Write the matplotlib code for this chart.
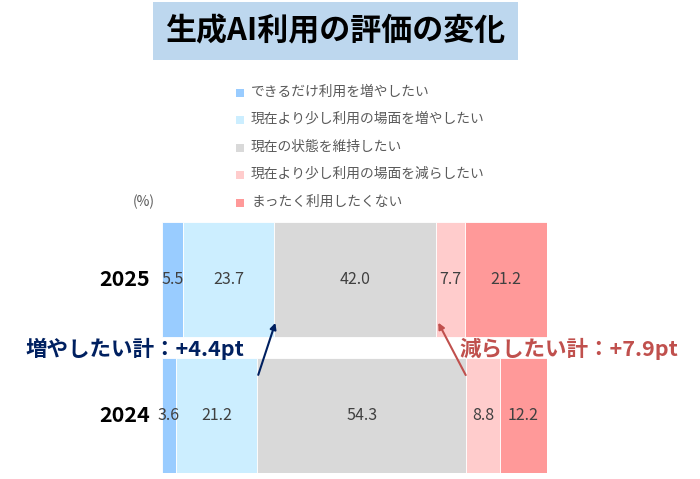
import matplotlib
matplotlib.use("Agg")
import matplotlib.pyplot as plt
from matplotlib.patches import Rectangle

plt.rcParams['font.family'] = ['Noto Sans CJK JP', 'DejaVu Sans']

years = ["2025", "2024"]
categories = ["できるだけ利用を増やしたい", "現在より少し利用の場面を増やしたい",
              "現在の状態を維持したい", "現在より少し利用の場面を減らしたい",
              "まったく利用したくない"]
values = {
    "2025": [5.5, 23.7, 42.0, 7.7, 21.2],
    "2024": [3.6, 21.2, 54.3, 8.8, 12.2],
}
colors = ["#99CCFF", "#CCEEFF", "#D9D9D9", "#FFCCCC", "#FF9999"]
title = "生成AI利用の評価の変化"
inc_note = "増やしたい計：+4.4pt"
dec_note = "減らしたい計：+7.9pt"

W, H = 700, 479
fig = plt.figure(figsize=(W / 100, H / 100), dpi=100)

def fx(px):
    return px / W

def fy(py):
    return 1 - py / H

# bar axes
ax = fig.add_axes([fx(162), fy(473), fx(547) - fx(162), fy(222) - fy(473)])
ax.set_xlim(0, 100.1)
ax.set_ylim(1.42, -0.42)
ax.axis('off')
for i, yr in enumerate(years):
    left = 0
    for v, c in zip(values[yr], colors):
        ax.barh(i, v, left=left, height=0.84, color=c, edgecolor='white', linewidth=0.6)
        ax.text(left + v / 2, i, f"{v:.1f}", ha='center', va='center',
                fontsize=11.5, color='#404040')
        left += v
    ax.text(-3.2, i, yr, ha='right', va='center', fontsize=15.5, fontweight='bold', color='black')

# title box
fig.patches.append(Rectangle((fx(153), fy(60)), fx(518) - fx(153), fy(2) - fy(60),
                             transform=fig.transFigure, facecolor='#BDD7EE', edgecolor='none'))
fig.text(fx(335), fy(31), title, ha='center', va='center', fontsize=22.3, fontweight='bold', color='black')

# legend
leg_y = [92, 119, 147, 174, 202]
for yy, lab, c in zip(leg_y, categories, colors):
    fig.patches.append(Rectangle((fx(236), fy(yy + 5)), fx(8), fy(0) - fy(8),
                                 transform=fig.transFigure, facecolor=c, edgecolor='none'))
    fig.text(fx(251), fy(yy), lab, ha='left', va='center', fontsize=9.9, color='#595959')

fig.text(fx(144), fy(202), "(%)", ha='center', va='center', fontsize=10, color='#595959')

# annotations
fig.text(fx(26), fy(349), inc_note, ha='left', va='center', fontsize=15.5,
         fontweight='bold', color='#002060')
fig.text(fx(678), fy(349), dec_note, ha='right', va='center', fontsize=15.5,
         fontweight='bold', color='#C0504D')

inc_2024 = sum(values["2024"][:2])
inc_2025 = sum(values["2025"][:2])
dec_2024 = sum(values["2024"][:3])
dec_2025 = sum(values["2025"][:3])
ax.annotate("", xy=(inc_2025 + 0.5, 0.3), xytext=(inc_2024, 0.72),
            arrowprops=dict(arrowstyle='-|>', color='#002060', lw=1.5, mutation_scale=9))
ax.annotate("", xy=(dec_2025 + 0.3, 0.3), xytext=(dec_2024 + 0.2, 0.72),
            arrowprops=dict(arrowstyle='-|>', color='#C0504D', lw=1.5, mutation_scale=9))

fig.savefig("out.png", dpi=100)
